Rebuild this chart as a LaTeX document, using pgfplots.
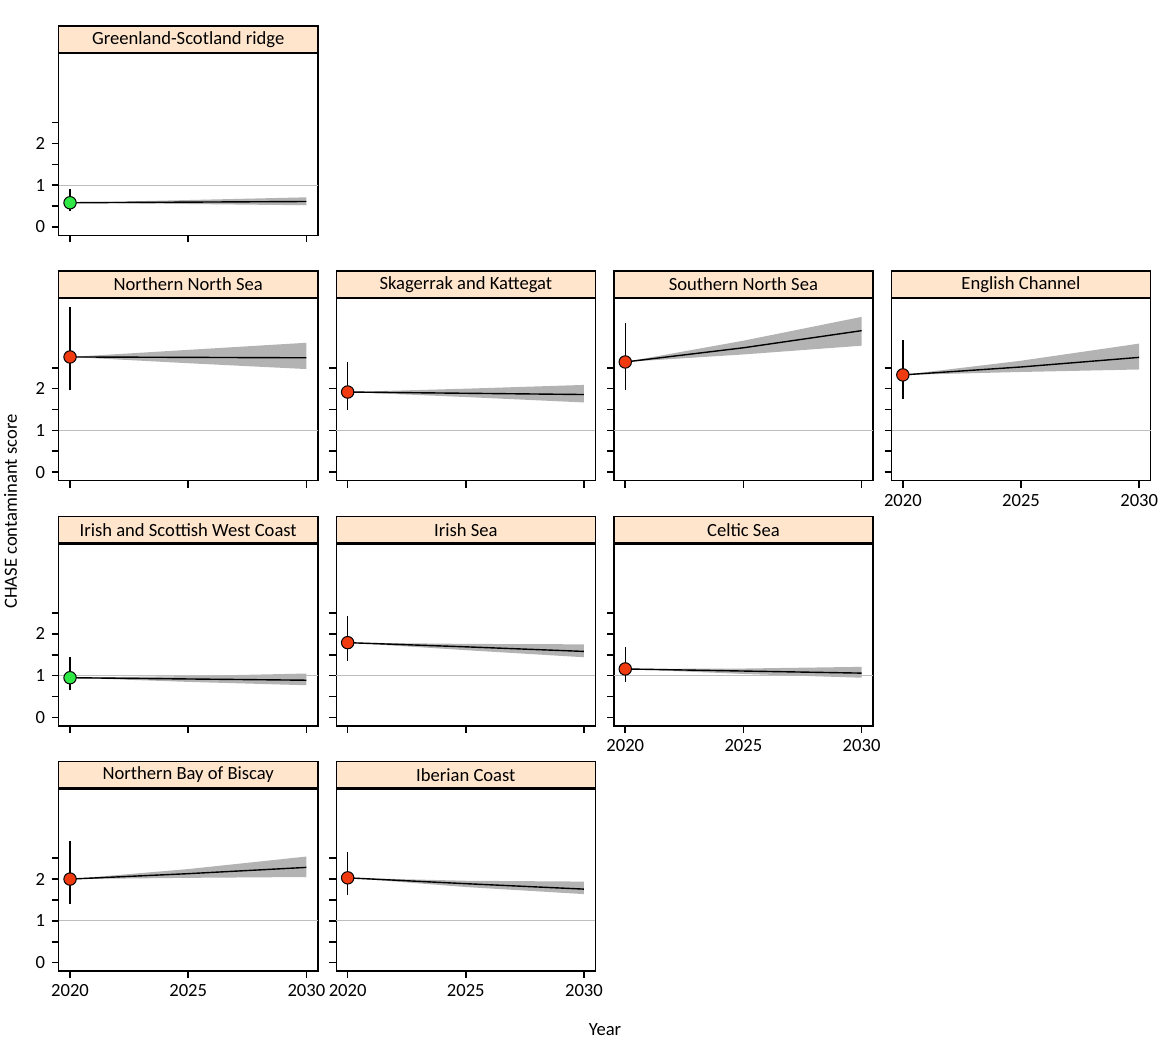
\documentclass[border=0pt]{standalone}
\usepackage{fontspec}
\setmainfont{Carlito}
\usepackage{pgfplots}
\pgfplotsset{compat=1.18}

\definecolor{stripcol}{HTML}{FFE5CC}
\definecolor{bandcol}{HTML}{B3B3B3}
\definecolor{refcol}{HTML}{BEBEBE}
\definecolor{ptred}{HTML}{F03A10}
\definecolor{ptgreen}{HTML}{30E845}

% one lattice panel: plot area 259x182 px (0.5pt per px)
\pgfplotsset{
  panel/.style={
    scale only axis,
    width=129.5pt, height=91pt,
    anchor=south west,
    xmin=2019.52, xmax=2030.48,
    ymin=-0.2, ymax=4.16,
    xtick={2020,2025,2030},
    ytick={0,0.5,1,1.5,2,2.5},
    xticklabels={,,}, yticklabels={,,,,,},
    tick align=outside,
    xtick pos=bottom, ytick pos=left,
    major tick length=3.5pt,
    axis line style={line width=0.8pt},
    every tick/.style={black, line width=0.8pt},
    /pgf/number format/assume math mode=true,
    every axis title/.style={at={(0.5,1)}, anchor=south, draw=black, fill=stripcol,
      line width=0.8pt, minimum width=129.5pt, minimum height=13.3pt, inner sep=0pt},
    clip=false,
  },
  xlab/.style={xticklabels={2020,2025,2030}},
  ylab/.style={yticklabels={0,,1,,2,}},
  refline/.style={refcol, line width=0.5pt, forget plot},
  band/.style={fill=bandcol, draw=none, forget plot},
  trend/.style={black, line width=0.7pt, forget plot},
  ebar/.style={black, line width=0.7pt, forget plot},
  pt/.style={only marks, mark=*, mark size=3.1pt, mark options={fill=#1, draw=black, line width=0.5pt}, forget plot},
}

\begin{document}
\fontsize{9.3pt}{11pt}\selectfont
\begin{tikzpicture}
\useasboundingbox (0,0) rectangle (585pt,-520pt);

% ---- row 1 ----
\begin{axis}[panel, ylab, at={(29.35pt,-117.65pt)}, title={Greenland-Scotland ridge}]
\addplot[refline] coordinates {(2019.52,1) (2030.48,1)};
\addplot[band] coordinates {(2020,0.58) (2025,0.645) (2030,0.71) (2030,0.52) (2025,0.55) (2020,0.58)} -- cycle;
\addplot[ebar] coordinates {(2020,0.38) (2020,0.91)};
\addplot[trend] coordinates {(2020,0.58) (2025,0.595) (2030,0.61)};
\addplot[pt=ptgreen] coordinates {(2020,0.58)};
\end{axis}

% ---- row 2 ----
\begin{axis}[panel, ylab, at={(29.35pt,-240.25pt)}, title={Northern North Sea}]
\addplot[refline] coordinates {(2019.52,1) (2030.48,1)};
\addplot[band] coordinates {(2020,2.76) (2025,2.93) (2030,3.10) (2030,2.47) (2025,2.61) (2020,2.76)} -- cycle;
\addplot[ebar] coordinates {(2020,1.96) (2020,3.96)};
\addplot[trend] coordinates {(2020,2.76) (2025,2.75) (2030,2.74)};
\addplot[pt=ptred] coordinates {(2020,2.76)};
\end{axis}

\begin{axis}[panel, at={(168.15pt,-240.25pt)}, title={Skagerrak and Kattegat}]
\addplot[refline] coordinates {(2019.52,1) (2030.48,1)};
\addplot[band] coordinates {(2020,1.92) (2025,2.00) (2030,2.09) (2030,1.67) (2025,1.80) (2020,1.92)} -- cycle;
\addplot[ebar] coordinates {(2020,1.50) (2020,2.64)};
\addplot[trend] coordinates {(2020,1.92) (2025,1.89) (2030,1.86)};
\addplot[pt=ptred] coordinates {(2020,1.92)};
\end{axis}

\begin{axis}[panel, at={(306.95pt,-240.25pt)}, title={Southern North Sea}]
\addplot[refline] coordinates {(2019.52,1) (2030.48,1)};
\addplot[band] coordinates {(2020,2.64) (2025,3.15) (2030,3.72) (2030,3.03) (2025,2.82) (2020,2.64)} -- cycle;
\addplot[ebar] coordinates {(2020,1.97) (2020,3.57)};
\addplot[trend] coordinates {(2020,2.64) (2025,2.98) (2030,3.39)};
\addplot[pt=ptred] coordinates {(2020,2.64)};
\end{axis}

\begin{axis}[panel, xlab, at={(445.75pt,-240.25pt)}, title={English Channel}]
\addplot[refline] coordinates {(2019.52,1) (2030.48,1)};
\addplot[band] coordinates {(2020,2.33) (2025,2.67) (2030,3.08) (2030,2.46) (2025,2.40) (2020,2.33)} -- cycle;
\addplot[ebar] coordinates {(2020,1.75) (2020,3.16)};
\addplot[trend] coordinates {(2020,2.33) (2025,2.52) (2030,2.75)};
\addplot[pt=ptred] coordinates {(2020,2.33)};
\end{axis}

% ---- row 3 ----
\begin{axis}[panel, ylab, at={(29.35pt,-362.85pt)}, title={Irish and Scottish West Coast}]
\addplot[refline] coordinates {(2019.52,1) (2030.48,1)};
\addplot[band] coordinates {(2020,0.95) (2025,0.99) (2030,1.05) (2030,0.77) (2025,0.85) (2020,0.95)} -- cycle;
\addplot[ebar] coordinates {(2020,0.65) (2020,1.45)};
\addplot[trend] coordinates {(2020,0.95) (2025,0.92) (2030,0.89)};
\addplot[pt=ptgreen] coordinates {(2020,0.95)};
\end{axis}

\begin{axis}[panel, at={(168.15pt,-362.85pt)}, title={Irish Sea}]
\addplot[refline] coordinates {(2019.52,1) (2030.48,1)};
\addplot[band] coordinates {(2020,1.79) (2025,1.76) (2030,1.75) (2030,1.44) (2025,1.61) (2020,1.79)} -- cycle;
\addplot[ebar] coordinates {(2020,1.36) (2020,2.44)};
\addplot[trend] coordinates {(2020,1.79) (2025,1.69) (2030,1.58)};
\addplot[pt=ptred] coordinates {(2020,1.79)};
\end{axis}

\begin{axis}[panel, xlab, at={(306.95pt,-362.85pt)}, title={Celtic Sea}]
\addplot[refline] coordinates {(2019.52,1) (2030.48,1)};
\addplot[band] coordinates {(2020,1.16) (2025,1.17) (2030,1.21) (2030,0.95) (2025,1.04) (2020,1.16)} -- cycle;
\addplot[ebar] coordinates {(2020,0.84) (2020,1.68)};
\addplot[trend] coordinates {(2020,1.16) (2025,1.11) (2030,1.06)};
\addplot[pt=ptred] coordinates {(2020,1.16)};
\end{axis}

% ---- row 4 ----
\begin{axis}[panel, xlab, ylab, at={(29.35pt,-485.45pt)}, title={Northern Bay of Biscay}]
\addplot[refline] coordinates {(2019.52,1) (2030.48,1)};
\addplot[band] coordinates {(2020,2.00) (2025,2.24) (2030,2.54) (2030,2.05) (2025,2.03) (2020,2.00)} -- cycle;
\addplot[ebar] coordinates {(2020,1.41) (2020,2.92)};
\addplot[trend] coordinates {(2020,2.00) (2025,2.13) (2030,2.28)};
\addplot[pt=ptred] coordinates {(2020,2.00)};
\end{axis}

\begin{axis}[panel, xlab, at={(168.15pt,-485.45pt)}, title={Iberian Coast}]
\addplot[refline] coordinates {(2019.52,1) (2030.48,1)};
\addplot[band] coordinates {(2020,2.03) (2025,1.96) (2030,1.94) (2030,1.64) (2025,1.81) (2020,2.03)} -- cycle;
\addplot[ebar] coordinates {(2020,1.62) (2020,2.66)};
\addplot[trend] coordinates {(2020,2.03) (2025,1.89) (2030,1.76)};
\addplot[pt=ptred] coordinates {(2020,2.03)};
\end{axis}

% shared axis labels
\node at (302.5pt,-515pt) {Year};
\node[rotate=90] at (5.25pt,-255.75pt) {CHASE contaminant score};
\end{tikzpicture}
\end{document}
